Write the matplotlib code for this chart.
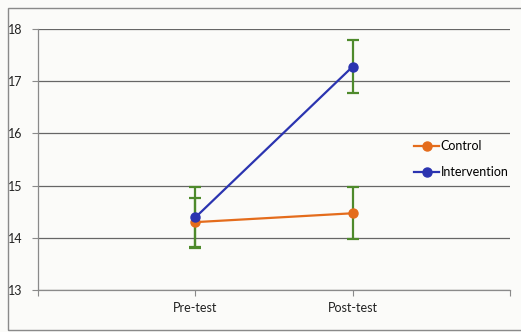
import matplotlib
matplotlib.use("Agg")
import matplotlib.pyplot as plt
from matplotlib.patches import Rectangle

categories = ["Pre-test", "Post-test"]
control = [14.30, 14.47]
control_err = [0.47, 0.50]
intervention = [14.39, 17.28]
intervention_err = [0.58, 0.50]
y_ticks = [13, 14, 15, 16, 17, 18]

plt.rcParams["font.family"] = ["Lato", "DejaVu Sans"]

W, H = 521, 332
fig = plt.figure(figsize=(W / 100, H / 100), dpi=100, facecolor="#fbfbf9")
ax = fig.add_axes([38 / W, 1 - 290 / H, (510 - 38) / W, (290 - 29) / H])
ax.set_facecolor("none")

# outer chart border
fig.add_artist(Rectangle((8 / W, 2 / H), 1.2, (330 - 8) / H, transform=fig.transFigure,
                         fill=False, edgecolor="#8a8a8a", linewidth=1.0))

x = list(range(len(categories)))
green = "#4e8a2c"
ax.errorbar(x, intervention, yerr=intervention_err, fmt="none", ecolor=green,
            elinewidth=1.6, capsize=4.5, capthick=1.6, zorder=3)
ax.errorbar(x, control, yerr=control_err, fmt="none", ecolor=green,
            elinewidth=1.6, capsize=4.5, capthick=1.6, zorder=3)
ax.plot(x, control, color="#e46c1c", marker="o", markersize=6.5, linewidth=1.6,
        label="Control", zorder=4)
ax.plot(x, intervention, color="#2b34b0", marker="o", markersize=6.5, linewidth=1.6,
        label="Intervention", zorder=5)

ax.set_xlim(-1, len(categories))
ax.set_ylim(y_ticks[0], y_ticks[-1])
ax.set_yticks(y_ticks)
ax.set_yticklabels([str(v) for v in y_ticks], fontsize=9, color="#222222")
ax.set_xticks([-1] + x + [len(categories)])
ax.set_xticklabels([""] + categories + [""], fontsize=9, color="#222222")
ax.grid(axis="y", color="#666666", linewidth=0.9)
ax.set_axisbelow(True)

for side in ("top", "right"):
    ax.spines[side].set_visible(False)
for side in ("left", "bottom"):
    ax.spines[side].set_color("#8a8a8a")
    ax.spines[side].set_linewidth(0.9)
ax.tick_params(axis="y", length=4, color="#8a8a8a", pad=7)
ax.tick_params(axis="x", length=4, color="#8a8a8a", pad=5)

ax.legend(loc="upper left", bbox_to_anchor=(408 / W, 1 - 134 / H),
          bbox_transform=fig.transFigure, frameon=False, fontsize=9,
          handlelength=2.0, handletextpad=0.1, labelspacing=1.1, borderpad=0)

fig.savefig("out.png", dpi=100, facecolor=fig.get_facecolor())
